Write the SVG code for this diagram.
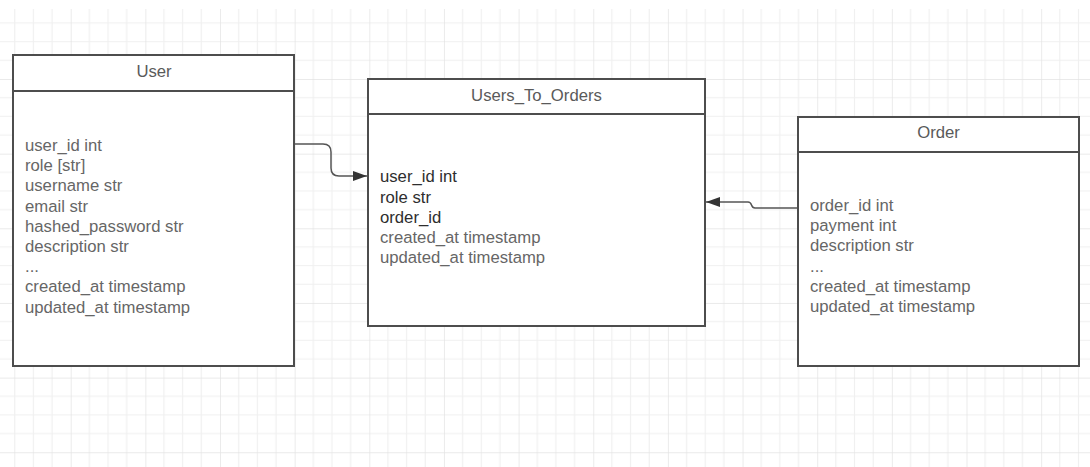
<svg xmlns="http://www.w3.org/2000/svg" width="1090" height="467" viewBox="0 0 1090 467">
<style>
.box{fill:#fff;stroke:#4d4d4d;stroke-width:2}
.div{stroke:#4d4d4d;stroke-width:2}
.title{font-family:"Liberation Sans",Arial,sans-serif;font-size:16.7px;fill:#5a5a5a;text-anchor:middle}
.row{font-family:"Liberation Sans",Arial,sans-serif;font-size:16.7px;fill:#666}
.dark{fill:#2e2e2e}
.conn{fill:none;stroke:#555;stroke-width:1.5}
</style>
<defs>
<pattern id="grid" patternUnits="userSpaceOnUse" x="-3.95" y="4.35" width="74.65" height="74.65">
<path d="M18.66 0V74.65M37.33 0V74.65M55.99 0V74.65M0 18.66H74.65M0 37.33H74.65M0 55.99H74.65" stroke="#f0f0f0" stroke-width="1.2" fill="none"/>
<path d="M0 0V74.65M0 0H74.65" stroke="#e3e3e3" stroke-width="1.4" fill="none"/>
</pattern>
<marker id="arr" viewBox="0 0 14 10" refX="14" refY="5" markerWidth="14" markerHeight="10" markerUnits="userSpaceOnUse" orient="auto">
<path d="M0 0L14 5L0 10Z" fill="#333"/>
</marker>
</defs>
<rect x="0" y="0" width="1090" height="467" fill="#fff"/>
<rect x="0" y="9" width="1090" height="458" fill="url(#grid)"/>
<g id="connectors">
<path class="conn" d="M294 144H323Q331 144 331 152V168Q331 176 339 176H367" marker-end="url(#arr)"/>
<path class="conn" d="M798 208H755Q752.5 208 751.5 205Q750.5 202 748 202H706" marker-end="url(#arr)"/>
</g>
<g id="user">
<rect class="box" x="13" y="55" width="281" height="311"/>
<line class="div" x1="13" y1="91" x2="294" y2="91"/>
<text class="title" x="154" y="77">User</text>
<text class="row" x="25" y="151">user_id int</text>
<text class="row" x="25" y="171.2">role [str]</text>
<text class="row" x="25" y="191.4">username str</text>
<text class="row" x="25" y="211.6">email str</text>
<text class="row" x="25" y="231.8">hashed_password str</text>
<text class="row" x="25" y="252">description str</text>
<text class="row" x="25" y="272.2">...</text>
<text class="row" x="25" y="292.4">created_at timestamp</text>
<text class="row" x="25" y="312.6">updated_at timestamp</text>
</g>
<g id="users_to_orders">
<rect class="box" x="368" y="79" width="337" height="247"/>
<line class="div" x1="368" y1="114" x2="705" y2="114"/>
<text class="title" x="536.5" y="101">Users_To_Orders</text>
<text class="row dark" x="380" y="182.3">user_id int</text>
<text class="row dark" x="380" y="202.5">role str</text>
<text class="row dark" x="380" y="222.7">order_id</text>
<text class="row" x="380" y="242.9">created_at timestamp</text>
<text class="row" x="380" y="263.1">updated_at timestamp</text>
</g>
<g id="order">
<rect class="box" x="798" y="117" width="281" height="249"/>
<line class="div" x1="798" y1="152" x2="1079" y2="152"/>
<text class="title" x="938.5" y="138">Order</text>
<text class="row" x="810" y="211">order_id int</text>
<text class="row" x="810" y="231.2">payment int</text>
<text class="row" x="810" y="251.4">description str</text>
<text class="row" x="810" y="271.6">...</text>
<text class="row" x="810" y="291.8">created_at timestamp</text>
<text class="row" x="810" y="312">updated_at timestamp</text>
</g>
</svg>
